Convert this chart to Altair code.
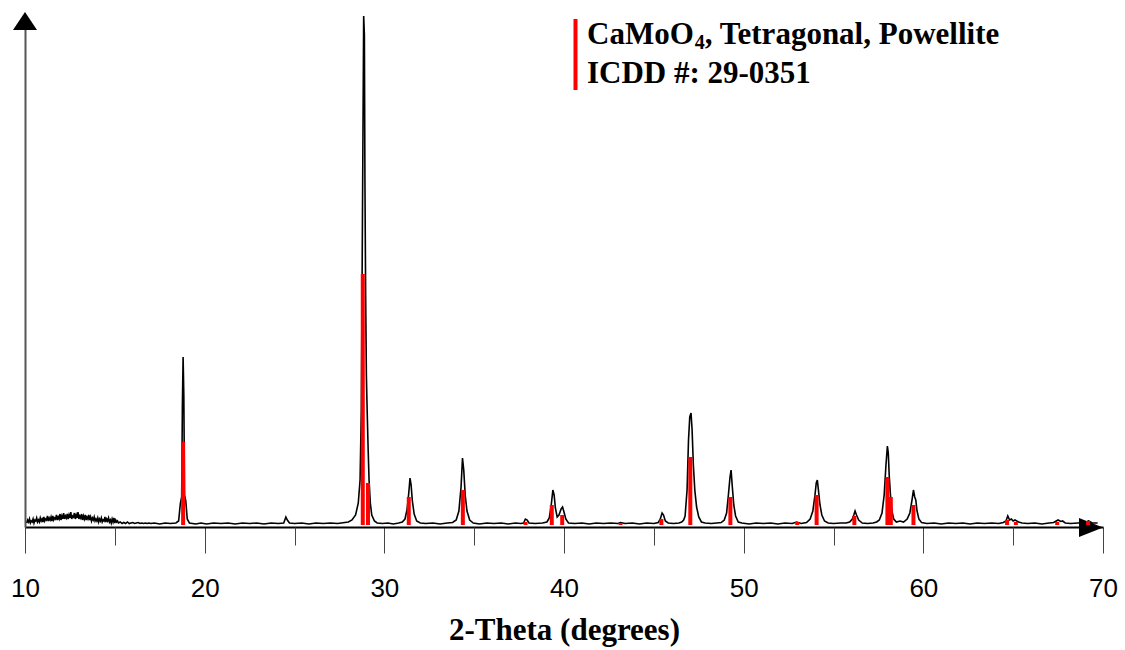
import altair as alt
import pandas as pd

# ---- XRD profile (2-theta, intensity), region by region ----
noise_region = [
    (10.10, 2), (10.15, 5), (10.20, 3), (10.25, 6), (10.30, 2), (10.35, 4), (10.40, 3),
    (10.45, 6), (10.50, 2), (10.55, 5), (10.60, 4), (10.65, 7), (10.70, 3), (10.75, 5),
    (10.80, 3), (10.85, 7), (10.90, 4), (10.95, 6), (11.00, 3), (11.05, 8), (11.10, 4),
    (11.15, 6), (11.20, 5), (11.25, 9), (11.30, 4), (11.35, 7), (11.40, 5), (11.45, 8),
    (11.50, 4), (11.55, 9), (11.60, 5), (11.65, 7), (11.70, 6), (11.75, 10), (11.80, 5),
    (11.85, 8), (11.90, 6), (11.95, 11), (12.00, 5), (12.05, 9), (12.10, 6), (12.15, 12),
    (12.20, 6), (12.25, 9), (12.30, 7), (12.35, 11), (12.40, 6), (12.45, 10), (12.50, 7),
    (12.55, 13), (12.60, 6), (12.65, 9), (12.70, 8), (12.75, 12), (12.80, 6), (12.85, 10),
    (12.90, 7), (12.95, 13), (13.00, 6), (13.05, 9), (13.10, 7), (13.15, 11), (13.20, 5),
    (13.25, 9), (13.30, 6), (13.35, 10), (13.40, 5), (13.45, 8), (13.50, 6), (13.55, 10),
    (13.60, 5), (13.65, 8), (13.70, 4), (13.75, 7), (13.80, 5), (13.85, 8), (13.90, 4),
    (13.95, 6), (14.00, 4), (14.05, 7), (14.10, 3), (14.15, 6), (14.20, 4), (14.25, 7),
    (14.30, 3), (14.35, 5), (14.40, 4), (14.45, 8), (14.50, 3), (14.55, 6), (14.60, 4),
    (14.65, 7), (14.70, 3), (14.75, 5), (14.80, 2), (14.85, 6), (14.90, 3), (14.95, 7),
    (15.00, 2), (15.05, 5), (15.10, 3), (15.15, 4), (15.20, 2),
    (15.3, 3), (15.4, 1.5), (15.5, 2.5), (15.6, 1.5), (15.7, 3), (15.8, 1.5), (15.9, 2),
    (16.0, 2.5), (16.1, 1.5), (16.2, 2), (16.3, 2.5), (16.4, 1.5), (16.5, 2), (16.6, 1.5),
    (16.7, 2), (16.8, 1.5), (16.9, 2), (17.0, 1.5),
]
region_18_28 = [
    (17.2, 2), (17.5, 1), (17.8, 2), (18.1, 1.5), (18.4, 2),
    (18.55, 4), (18.65, 22), (18.72, 28), (18.76, 120), (18.8, 168), (18.84, 130),
    (18.88, 30), (18.95, 24), (19.03, 6), (19.15, 2),
    (19.5, 1), (19.8, 2), (20.1, 1), (20.5, 2), (20.9, 1.5), (21.3, 2), (21.7, 1),
    (22.1, 2), (22.5, 1.5), (22.9, 2), (23.3, 1), (23.7, 2), (24.1, 1.5),
    (24.4, 2), (24.52, 8), (24.6, 5), (24.72, 2),
    (25.0, 1.5), (25.4, 2), (25.8, 1), (26.2, 2), (26.6, 1.5), (27.0, 2), (27.4, 1.5), (27.8, 2.5),
]
region_28_41 = [
    (28.0, 3), (28.2, 5), (28.4, 10), (28.55, 22), (28.65, 45), (28.72, 115), (28.78, 300),
    (28.85, 509), (28.89, 490), (28.92, 345), (28.96, 230), (29.0, 150), (29.05, 110),
    (29.1, 75), (29.15, 45), (29.22, 22), (29.3, 10), (29.45, 4), (29.6, 2),
    (29.9, 1.5), (30.2, 2), (30.5, 1), (30.8, 2),
    (31.0, 3), (31.15, 6), (31.27, 16), (31.36, 32), (31.43, 47), (31.49, 40), (31.56, 24),
    (31.66, 11), (31.8, 4), (32.0, 2),
    (32.3, 1.5), (32.7, 2), (33.1, 1), (33.5, 2),
    (33.8, 2.5), (34.0, 5), (34.15, 14), (34.27, 38), (34.35, 67), (34.42, 55), (34.5, 30),
    (34.6, 14), (34.75, 5), (34.95, 2),
    (35.3, 1), (35.7, 2), (36.1, 1.5), (36.5, 2), (36.9, 1), (37.3, 2), (37.6, 1.5),
    (37.75, 2), (37.85, 6), (37.95, 5), (38.05, 2), (38.4, 1.5), (38.8, 2),
    (39.05, 3), (39.18, 7), (39.29, 20), (39.38, 35), (39.45, 30), (39.52, 17), (39.62, 8),
    (39.72, 10), (39.84, 16), (39.92, 18), (40.0, 13), (40.1, 6), (40.25, 2),
]
region_41_55 = [
    (40.6, 1.5), (41.0, 2), (41.4, 1), (41.8, 2), (42.2, 1.5), (42.6, 2), (43.0, 1.5),
    (43.15, 2.5), (43.4, 1.5), (43.8, 2), (44.2, 1), (44.6, 2), (45.0, 1.5),
    (45.25, 2.5), (45.36, 6), (45.46, 12), (45.54, 10), (45.64, 4), (45.8, 2),
    (46.1, 1.5), (46.4, 2),
    (46.55, 3), (46.66, 5), (46.74, 9), (46.85, 35), (46.93, 85), (47.0, 108), (47.07, 112),
    (47.13, 95), (47.2, 60), (47.28, 35), (47.38, 18), (47.5, 8), (47.65, 3), (47.85, 2),
    (48.2, 1.5), (48.5, 2),
    (48.75, 2.5), (48.92, 5), (49.05, 12), (49.15, 30), (49.24, 48), (49.3, 55), (49.36, 40),
    (49.45, 20), (49.55, 9), (49.7, 3), (49.9, 2),
    (50.3, 1), (50.7, 2), (51.1, 1.5), (51.5, 2), (51.9, 1), (52.3, 2), (52.7, 1.5),
    (52.95, 3), (53.2, 1.5),
    (53.5, 2.5), (53.7, 6), (53.85, 14), (53.97, 30), (54.04, 42), (54.1, 45), (54.16, 35),
    (54.25, 20), (54.35, 10), (54.5, 4), (54.7, 2),
]
region_55_70 = [
    (55.0, 1.5), (55.4, 2), (55.7, 2),
    (55.9, 3), (56.05, 6), (56.13, 10), (56.2, 14), (56.28, 10), (56.4, 5), (56.6, 2),
    (56.9, 1.5), (57.2, 2),
    (57.4, 3), (57.55, 5), (57.7, 12), (57.82, 30), (57.92, 60), (58.0, 79), (58.05, 72),
    (58.1, 50), (58.17, 30), (58.25, 14), (58.35, 6), (58.5, 3), (58.7, 4), (58.9, 3),
    (59.1, 6), (59.25, 12), (59.37, 25), (59.45, 35), (59.52, 28), (59.58, 25), (59.65, 14),
    (59.75, 6), (59.9, 2.5),
    (60.2, 1.5), (60.6, 2), (61.0, 1), (61.4, 2), (61.8, 1.5), (62.2, 2), (62.6, 1),
    (63.0, 2), (63.4, 1.5), (63.8, 2), (64.2, 1.5),
    (64.45, 2.5), (64.6, 4), (64.7, 9), (64.8, 5), (64.9, 6), (65.0, 4), (65.1, 5),
    (65.3, 3), (65.5, 2),
    (65.8, 1.5), (66.2, 2), (66.6, 1), (67.0, 2),
    (67.25, 2.5), (67.4, 4), (67.5, 5), (67.65, 3.5), (67.75, 4), (67.9, 2),
    (68.2, 1.5), (68.6, 2), (69.0, 2.5), (69.2, 4), (69.4, 2), (69.7, 2),
]

# ---- ICDD 29-0351 reference sticks ----
stick_theta = [18.8, 28.8, 29.09, 31.36, 34.37, 37.86, 39.32, 39.9, 43.15, 45.42, 47.03,
               49.26, 52.98, 54.06, 56.16, 58.0, 58.19, 59.45, 64.66, 65.15, 67.45, 69.17]
stick_height = [83, 251, 42, 28, 35, 3, 20, 10, 2, 6, 68,
                28, 3, 30, 9, 48, 28, 20, 5, 3, 3, 4]

major_ticks = [10, 20, 30, 40, 50, 60, 70]
minor_ticks = [15, 25, 35, 45, 55, 65]

legend_line1 = ["CaMoO", "4", ", Tetragonal, Powellite"]
legend_line2 = "ICDD #: 29-0351"
x_title = "2-Theta (degrees)"

profile = noise_region + region_18_28 + region_28_41 + region_41_55 + region_55_70
df_profile = pd.DataFrame(profile, columns=["theta", "intensity"])
df_sticks = pd.DataFrame({"theta": stick_theta, "height": stick_height,
                          "base": [0] * len(stick_theta)})
one = pd.DataFrame({"a": [0]})

W, H = 1078, 511
xscale = alt.Scale(domain=[10, 70], nice=False, zero=False, padding=0)
yscale = alt.Scale(domain=[-2, 509], nice=False, zero=False, padding=0)
yaxis = alt.Axis(domain=True, domainColor="#555555", domainWidth=2, ticks=False,
                 labels=False, grid=False)

major_axis = alt.Axis(values=major_ticks, format="d", orient="bottom", tickSize=26,
                      tickColor="#444444", tickWidth=1, domainColor="black", domainWidth=2,
                      labelFont="Liberation Sans", labelFontSize=26, labelColor="black",
                      labelPadding=22, labelFlush=False, labelOverlap=False, grid=False,
                      titleFont="Liberation Serif", titleFontSize=31, titleFontWeight="bold",
                      titleColor="black", titlePadding=14)
minor_axis = alt.Axis(values=minor_ticks, orient="bottom", tickSize=18, tickColor="#444444",
                      tickWidth=1, labels=False, domain=False, grid=False)

line = alt.Chart(df_profile).mark_line(color="black", strokeWidth=1.6).encode(
    x=alt.X("theta:Q", scale=xscale, axis=major_axis, title=x_title),
    y=alt.Y("intensity:Q", scale=yscale, axis=yaxis, title=None),
    order="theta:Q",
)

sticks = alt.Chart(df_sticks).mark_bar(color="#ff0000", size=4).encode(
    x=alt.X("theta:Q", scale=xscale, axis=minor_axis, title=None),
    y=alt.Y("height:Q", scale=yscale, axis=yaxis, title=None),
    y2="base:Q",
)

arrow_up = alt.Chart(one).mark_point(
    shape="M-1,0.75L0,-0.75L1,0.75Z", size=576, filled=True, color="black", opacity=1
).encode(x=alt.value(0), y=alt.value(5))
arrow_right = alt.Chart(one).mark_point(
    shape="M-1,-0.8L1,0L-1,0.8Z", size=576, filled=True, color="black", opacity=1
).encode(x=alt.value(W - 12), y=alt.value(H + 0.5))

leg_bar = alt.Chart(one).mark_rule(color="#ff0000", strokeWidth=4).encode(
    x=alt.value(550.5), y=alt.value(3), y2=alt.value(74))
tfont = dict(font="Liberation Serif", fontWeight="bold", color="black", align="left",
             baseline="alphabetic")
fs = 31
x0 = 562
w1 = 3.444 * fs
leg1a = alt.Chart(one).mark_text(text=legend_line1[0], fontSize=fs, **tfont).encode(
    x=alt.value(x0), y=alt.value(28))
leg1b = alt.Chart(one).mark_text(text=legend_line1[1], fontSize=20, **tfont).encode(
    x=alt.value(x0 + w1 + 1), y=alt.value(33))
leg1c = alt.Chart(one).mark_text(text=legend_line1[2], fontSize=fs, **tfont).encode(
    x=alt.value(x0 + w1 + 11), y=alt.value(28))
leg2 = alt.Chart(one).mark_text(text=legend_line2, fontSize=fs, **tfont).encode(
    x=alt.value(x0), y=alt.value(67))

chart = alt.layer(
    line, arrow_up, arrow_right, sticks, leg_bar, leg1a, leg1b, leg1c, leg2
).resolve_axis(x="independent").properties(
    width=W, height=H,
    padding={"left": 25, "top": 16, "right": 22, "bottom": 123},
    autosize=alt.AutoSizeParams(type="none"),
    background="white",
).configure_view(stroke="transparent")

chart.save("out.html", embed_options={"renderer": "svg", "actions": False})
